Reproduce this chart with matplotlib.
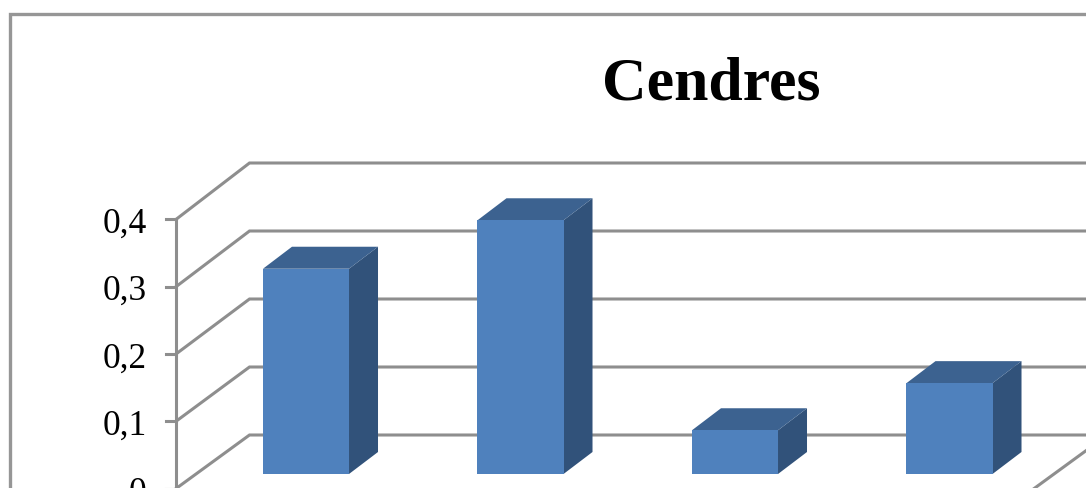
import matplotlib
matplotlib.use("Agg")
import matplotlib.pyplot as plt

# ── Data ───────────────────────────────────────────────────────────
values = [0.305, 0.377, 0.065, 0.135]
y_ticks = [0.0, 0.1, 0.2, 0.3, 0.4]
y_labels = ["0", "0,1", "0,2", "0,3", "0,4"]
title = "Cendres"

# ── Style / layout (pixels of the final picture) ───────────────────
W, H = 1086, 489
ZERO_PX = 489.6         # row of the value 0, at the very bottom of the picture
PX_PER_CAT = 214.5      # distance between two bars
PX_PER_UNIT = 673.0     # pixels for 1.0 on the value axis
BACK_PX_PER_UNIT = 680.0     # the back wall is drawn a bit larger
FIRST_BAR_PX = 306
AXIS_PX = 176           # front left edge of the floor
RIGHT_PX = 1034         # front right edge of the floor
WALL_DX, WALL_DY = 73.5, 53.6  # depth of the 3D box at value 0
BAR_DX, BAR_DY = 29, 22      # depth of a bar
BAR_UP = 14.6           # bars sit this far above the front of the floor
BAR_WIDTH = 0.401

FRONT = "#4F81BD"
SIDE = "#31527A"
TOP = "#3C6290"
GRID = "#8E8E8E"

plt.rcParams["font.family"] = ["Liberation Serif", "DejaVu Serif"]


def cat(px):
    """Horizontal pixel position -> category coordinate."""
    return (px - FIRST_BAR_PX) / PX_PER_CAT


def dx(px):
    return px / PX_PER_CAT


def dy(px):
    return px / PX_PER_UNIT


def row(px):
    """Pixel row from the top -> value coordinate."""
    return (ZERO_PX - px) / PX_PER_UNIT


fig = plt.figure(figsize=(W / 100, H / 100), dpi=100)
ax = fig.add_axes([0, 0, 1, 1])
ax.set_xlim(cat(0), cat(W))
ax.set_ylim(row(H), row(0))
ax.axis("off")

# ── Chart frame ────────────────────────────────────────────────────
ax.plot([cat(10), cat(10), cat(W + 5)], [-0.1, row(15), row(15)],
        color="#969696", lw=2.4, solid_joinstyle="miter", zorder=1)

# ── Walls and gridlines ────────────────────────────────────────────
x0 = cat(AXIS_PX)
x_back = x0 + dx(WALL_DX)
x_end = cat(RIGHT_PX) + dx(WALL_DX)
for t in y_ticks:
    back = dy(WALL_DY) + t * BACK_PX_PER_UNIT / PX_PER_UNIT
    ax.plot([x0, x_back, x_end], [t, back, back],
            color=GRID, lw=2.2, solid_joinstyle="miter", zorder=2)
    ax.plot([x0 - dx(10), x0], [t, t], color=GRID, lw=2.2, zorder=2)
ax.plot([x0, x0], [0, 0.4], color=GRID, lw=2.2, zorder=2)
ax.plot([cat(RIGHT_PX), x_end], [0, dy(WALL_DY)], color=GRID, lw=2.2, zorder=2)

for t, lab in zip(y_ticks, y_labels):
    ax.text(cat(146.5), t, lab, ha="right", va="center_baseline", fontsize=25.5,
            color="black", zorder=5)

# ── Bars ───────────────────────────────────────────────────────────
base = dy(BAR_UP)
for i, v in enumerate(values):
    left = i - BAR_WIDTH / 2
    right = i + BAR_WIDTH / 2
    top = base + v
    ddx, ddy = dx(BAR_DX), dy(BAR_DY)
    ax.fill([right, right + ddx, right + ddx, right],
            [base, base + ddy, top + ddy, top], color=SIDE, lw=0, zorder=3)
    ax.fill([left, left + ddx, right + ddx, right],
            [top, top + ddy, top + ddy, top], color=TOP, lw=0, zorder=3)
    ax.fill([left, right, right, left],
            [base, base, top, top], color=FRONT, lw=0, zorder=4)

ax.text(cat(711), row(100), title, ha="center", va="baseline",
        fontsize=44.5, fontweight="bold", color="black", zorder=5)

fig.savefig("out.png", dpi=100)
